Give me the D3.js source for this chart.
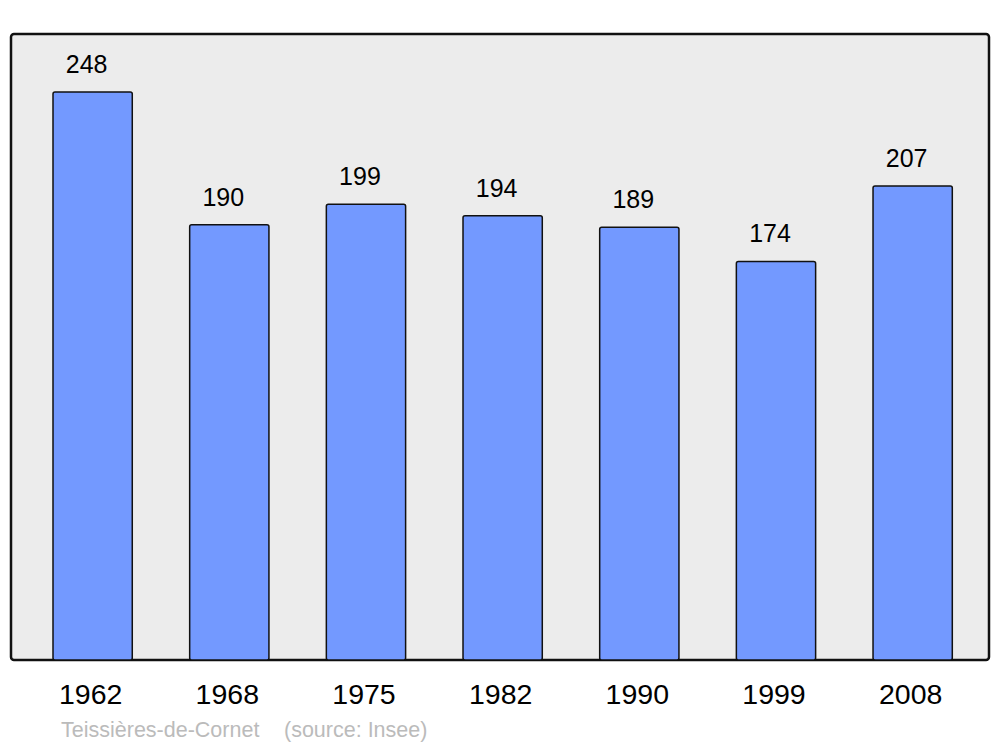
<!DOCTYPE html>
<html><head><meta charset="utf-8">
<script src="https://cdn.jsdelivr.net/npm/d3@7"></script>
<style>body{margin:0;background:#fff}</style>
</head><body>
<svg id="c" width="1000" height="747"></svg>
<script>
const years = ["1962","1968","1975","1982","1990","1999","2008"];
const population = [248,190,199,194,189,174,207];
const commune = "Teissières-de-Cornet";
const source = "(source: Insee)";

const svg = d3.select("#c");
const font = "'Liberation Sans', Arial, sans-serif";

svg.append("rect").attr("x",11).attr("y",34).attr("width",978).attr("height",626)
  .attr("rx",3).attr("fill","#ececec").attr("stroke","#111").attr("stroke-width",2.5);

const x = d3.scaleBand().domain(years).range([24.3,981]).paddingInner(0.42).paddingOuter(0.21);
const y = d3.scaleLinear().domain([0,248]).range([660,92]);

svg.selectAll("rect.bar").data(population).join("rect").attr("class","bar")
  .attr("x",(d,i)=>x(years[i])).attr("y",d=>y(d))
  .attr("width",x.bandwidth()).attr("height",d=>y(0)-y(d))
  .attr("rx",2).attr("fill","#7399ff").attr("stroke","#111").attr("stroke-width",1.5);

svg.selectAll("text.val").data(population).join("text").attr("class","val")
  .attr("x",(d,i)=>x(years[i])+x.bandwidth()/2-6).attr("y",d=>y(d)-19)
  .attr("text-anchor","middle").attr("font-family",font).attr("font-size",25)
  .attr("fill","#000").text(d=>d);

const xAxis = d3.axisBottom(x).tickSize(0).tickPadding(0);
const ax = svg.append("g").attr("transform","translate(-2,704)").call(xAxis);
ax.select(".domain").remove();
ax.selectAll("text").attr("font-family",font).attr("font-size",28.5).attr("fill","#000").attr("dy",0);

svg.append("text").attr("x",61).attr("y",737).attr("font-family",font).attr("font-size",21.5)
  .attr("fill","#bbb").text(commune);
svg.append("text").attr("x",284).attr("y",737).attr("font-family",font).attr("font-size",21.5)
  .attr("fill","#bbb").text(source);
</script>
</body></html>
